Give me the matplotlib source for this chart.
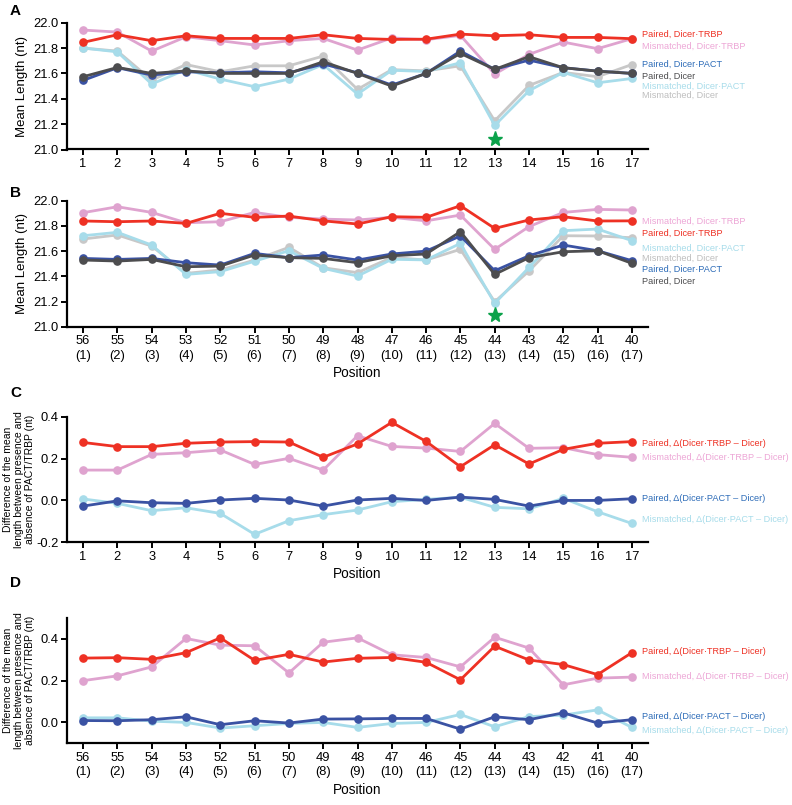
import numpy as np
import matplotlib
matplotlib.use("Agg")
import matplotlib.pyplot as plt

plt.rcParams['font.family'] = ['Liberation Sans', 'DejaVu Sans']

RED = "#EE3124"
PINK = "#DFA3CF"
LBLUE = "#A7DCEA"
LGREY = "#C8C8C8"
DARK = "#4D4D4F"
BLUE = "#3A52A3"
TXT_BLUE = "#2D6CB8"
TXT_PINK = "#EDA6D6"
GREEN = "#0BA24A"

# ---- data ----
positions = np.arange(1, 18)
pos_b_labels = [str(56 - i) for i in range(17)]

# Panel A (mean length, nt)
a_paired_trbp = [21.845, 21.905, 21.858, 21.897, 21.876, 21.876, 21.876, 21.905, 21.876,
                 21.868, 21.870, 21.910, 21.897, 21.905, 21.884, 21.884, 21.874]
a_mis_trbp = [21.942, 21.926, 21.776, 21.889, 21.858, 21.824, 21.858, 21.876, 21.784,
              21.880, 21.866, 21.900, 21.595, 21.750, 21.847, 21.795, 21.874]
a_mis_dicer = [21.800, 21.776, 21.547, 21.670, 21.613, 21.660, 21.660, 21.737, 21.474,
               21.630, 21.620, 21.660, 21.226, 21.505, 21.608, 21.574, 21.670]
a_mis_pact = [21.800, 21.770, 21.516, 21.630, 21.555, 21.495, 21.555, 21.670, 21.437,
              21.625, 21.615, 21.684, 21.190, 21.463, 21.608, 21.526, 21.560]
a_paired_pact = [21.545, 21.645, 21.587, 21.613, 21.605, 21.613, 21.605, 21.674, 21.605,
                 21.508, 21.600, 21.776, 21.632, 21.705, 21.645, 21.618, 21.600]
a_paired_dicer = [21.574, 21.647, 21.600, 21.620, 21.600, 21.600, 21.600, 21.692, 21.600,
                  21.500, 21.600, 21.758, 21.632, 21.732, 21.645, 21.618, 21.600]

# Panel B (mean length, nt)
b_paired_trbp = [21.839, 21.833, 21.839, 21.820, 21.900, 21.868, 21.878, 21.840, 21.815,
                 21.873, 21.868, 21.960, 21.780, 21.847, 21.873, 21.839, 21.840]
b_mis_trbp = [21.905, 21.952, 21.907, 21.825, 21.833, 21.907, 21.868, 21.854, 21.847,
              21.868, 21.840, 21.886, 21.614, 21.794, 21.907, 21.931, 21.926]
b_mis_pact = [21.722, 21.749, 21.648, 21.415, 21.437, 21.520, 21.603, 21.463, 21.402,
              21.535, 21.530, 21.661, 21.185, 21.470, 21.762, 21.775, 21.683]
b_mis_dicer = [21.696, 21.728, 21.640, 21.423, 21.450, 21.529, 21.630, 21.468, 21.429,
               21.550, 21.529, 21.614, 21.198, 21.442, 21.722, 21.720, 21.706]
b_paired_pact = [21.542, 21.534, 21.542, 21.508, 21.489, 21.582, 21.548, 21.569, 21.529,
                 21.577, 21.600, 21.720, 21.444, 21.563, 21.648, 21.603, 21.524]
b_paired_dicer = [21.529, 21.521, 21.534, 21.476, 21.481, 21.569, 21.548, 21.542, 21.508,
                  21.563, 21.577, 21.754, 21.415, 21.548, 21.595, 21.603, 21.503]

# Panel C (difference, nt)
c_paired_trbp = [0.277, 0.257, 0.257, 0.273, 0.279, 0.281, 0.279, 0.206, 0.270,
                 0.373, 0.282, 0.161, 0.266, 0.174, 0.244, 0.273, 0.281]
c_mis_trbp = [0.145, 0.145, 0.220, 0.228, 0.241, 0.172, 0.201, 0.145, 0.309,
              0.258, 0.250, 0.234, 0.368, 0.249, 0.252, 0.219, 0.206]
c_mis_pact = [0.007, -0.014, -0.049, -0.035, -0.062, -0.162, -0.097, -0.068, -0.046,
              -0.006, 0.005, 0.015, -0.033, -0.040, 0.010, -0.054, -0.110]
c_paired_pact = [-0.027, -0.002, -0.011, -0.014, 0.002, 0.010, 0.002, -0.027, 0.002,
                 0.010, 0.000, 0.016, 0.005, -0.027, 0.000, 0.000, 0.008]

# Panel D (difference, nt)
d_paired_trbp = [0.308, 0.310, 0.302, 0.334, 0.405, 0.297, 0.326, 0.289, 0.307,
                 0.311, 0.288, 0.204, 0.365, 0.299, 0.277, 0.229, 0.334]
d_mis_trbp = [0.200, 0.223, 0.266, 0.402, 0.370, 0.367, 0.237, 0.384, 0.405,
              0.324, 0.311, 0.266, 0.408, 0.356, 0.180, 0.212, 0.217]
d_mis_pact = [0.022, 0.022, 0.006, 0.000, -0.027, -0.016, -0.005, 0.000, -0.024,
              -0.005, 0.000, 0.038, -0.021, 0.028, 0.035, 0.060, -0.024]
d_paired_pact = [0.009, 0.008, 0.013, 0.027, -0.011, 0.008, -0.003, 0.016, 0.017,
                 0.019, 0.019, -0.032, 0.027, 0.013, 0.046, -0.003, 0.013]

star_pos = 13
star_len_a = 21.08
star_len_b = 21.09

W, H = 792, 805
fig = plt.figure(figsize=(W / 100, H / 100), dpi=100)


def make_ax(top, bottom, left=67, right=648):
    return fig.add_axes([left / W, 1 - bottom / H, (right - left) / W, (bottom - top) / H])


def style(ax, ylim, yticks):
    ax.set_xlim(0.53, 17.47)
    ax.set_ylim(*ylim)
    ax.set_yticks(yticks)
    for s in ("top", "right"):
        ax.spines[s].set_visible(False)
    for s in ("left", "bottom"):
        ax.spines[s].set_linewidth(1.6)
    ax.tick_params(direction="out", length=4, width=1.4, labelsize=9.3, pad=2)
    ax.set_xticks(positions)
    ax.yaxis.set_major_formatter(matplotlib.ticker.FormatStrFormatter("%.1f"))


def line(ax, y, col, z):
    ax.plot(positions, y, "-o", color=col, lw=2.0, ms=5.2, mec=col, zorder=z, clip_on=False)


def labels(ax, items, x=17.29, fs=6.6):
    for txt, yv, col in items:
        ax.text(x, yv, txt, color=col, fontsize=fs, ha="left", va="center", clip_on=False)


# ---- Panel A ----
axA = make_ax(22.7, 149.5)
style(axA, (21.0, 22.0), [21.0, 21.2, 21.4, 21.6, 21.8, 22.0])
line(axA, a_mis_dicer, LGREY, 2)
line(axA, a_mis_pact, LBLUE, 3)
line(axA, a_mis_trbp, PINK, 4)
line(axA, a_paired_pact, BLUE, 5)
line(axA, a_paired_dicer, DARK, 6)
line(axA, a_paired_trbp, RED, 7)
axA.plot([star_pos], [star_len_a], marker="*", color=GREEN, ms=11, clip_on=False, zorder=8)
axA.set_xticklabels([str(p) for p in positions])
axA.set_ylabel("Mean Length (nt)", fontsize=9.5, labelpad=4)
labels(axA, [("Paired, Dicer\u00b7TRBP", 21.91, RED),
             ("Mismatched, Dicer\u00b7TRBP", 21.815, TXT_PINK),
             ("Paired, Dicer\u00b7PACT", 21.673, TXT_BLUE),
             ("Paired, Dicer", 21.578, DARK),
             ("Mismatched, Dicer\u00b7PACT", 21.499, LBLUE),
             ("Mismatched, Dicer", 21.428, "#BEBEBE")])

# ---- Panel B ----
axB = make_ax(200.7, 326.7)
style(axB, (21.0, 22.0), [21.0, 21.2, 21.4, 21.6, 21.8, 22.0])
line(axB, b_mis_dicer, LGREY, 2)
line(axB, b_mis_pact, LBLUE, 3)
line(axB, b_mis_trbp, PINK, 4)
line(axB, b_paired_pact, BLUE, 5)
line(axB, b_paired_dicer, DARK, 6)
line(axB, b_paired_trbp, RED, 7)
axB.plot([star_pos], [star_len_b], marker="*", color=GREEN, ms=11, clip_on=False, zorder=8)
axB.set_xticklabels([f"{b}\n({p})" for b, p in zip(pos_b_labels, positions)], linespacing=1.3)
axB.set_ylabel("Mean Length (nt)", fontsize=9.5, labelpad=4)
axB.set_xlabel("Position", fontsize=9.8, labelpad=3)
labels(axB, [("Mismatched, Dicer\u00b7TRBP", 21.839, TXT_PINK),
             ("Paired, Dicer\u00b7TRBP", 21.744, RED),
             ("Mismatched, Dicer\u00b7PACT", 21.625, LBLUE),
             ("Mismatched, Dicer", 21.545, "#BEBEBE"),
             ("Paired, Dicer\u00b7PACT", 21.458, TXT_BLUE),
             ("Paired, Dicer", 21.363, DARK)])

diff_label = "Difference of the mean\nlength between presence and\nabsence of PACT/TRBP (nt)"

# ---- Panel C ----
axC = make_ax(416.7, 542.3)
style(axC, (-0.2, 0.4), [-0.2, 0.0, 0.2, 0.4])
line(axC, c_mis_pact, LBLUE, 3)
line(axC, c_mis_trbp, PINK, 4)
line(axC, c_paired_pact, BLUE, 5)
line(axC, c_paired_trbp, RED, 7)
axC.set_xticklabels([str(p) for p in positions])
axC.set_ylabel(diff_label, fontsize=7.5, linespacing=1.1)
axC.yaxis.set_label_coords(-0.055, 0.5)
axC.set_xlabel("Position", fontsize=9.8, labelpad=3)
labels(axC, [("Paired, \u0394(Dicer\u00b7TRBP \u2013 Dicer)", 0.274, RED),
             ("Mismatched, \u0394(Dicer\u00b7TRBP \u2013 Dicer)", 0.203, TXT_PINK),
             ("Paired, \u0394(Dicer\u00b7PACT \u2013 Dicer)", 0.007, TXT_BLUE),
             ("Mismatched, \u0394(Dicer\u00b7PACT \u2013 Dicer)", -0.089, LBLUE)])

# ---- Panel D ----
axD = make_ax(618.0, 743.3)
style(axD, (-0.1, 0.5), [0.0, 0.2, 0.4])
line(axD, d_mis_pact, LBLUE, 3)
line(axD, d_mis_trbp, PINK, 4)
line(axD, d_paired_pact, BLUE, 5)
line(axD, d_paired_trbp, RED, 7)
axD.set_xticklabels([f"{b}\n({p})" for b, p in zip(pos_b_labels, positions)], linespacing=1.3)
axD.set_ylabel(diff_label, fontsize=7.5, linespacing=1.1)
axD.yaxis.set_label_coords(-0.055, 0.5)
axD.set_xlabel("Position", fontsize=9.8, labelpad=3)
labels(axD, [("Paired, \u0394(Dicer\u00b7TRBP \u2013 Dicer)", 0.338, RED),
             ("Mismatched, \u0394(Dicer\u00b7TRBP \u2013 Dicer)", 0.220, TXT_PINK),
             ("Paired, \u0394(Dicer\u00b7PACT \u2013 Dicer)", 0.030, TXT_BLUE),
             ("Mismatched, \u0394(Dicer\u00b7PACT \u2013 Dicer)", -0.037, LBLUE)])

# panel letters
for letter, ypx in (("A", 11), ("B", 193), ("C", 393), ("D", 583)):
    fig.text(10 / W, 1 - ypx / H, letter, fontsize=11, fontweight="bold", ha="left", va="center")

fig.savefig("out.png", dpi=100, facecolor="white")
